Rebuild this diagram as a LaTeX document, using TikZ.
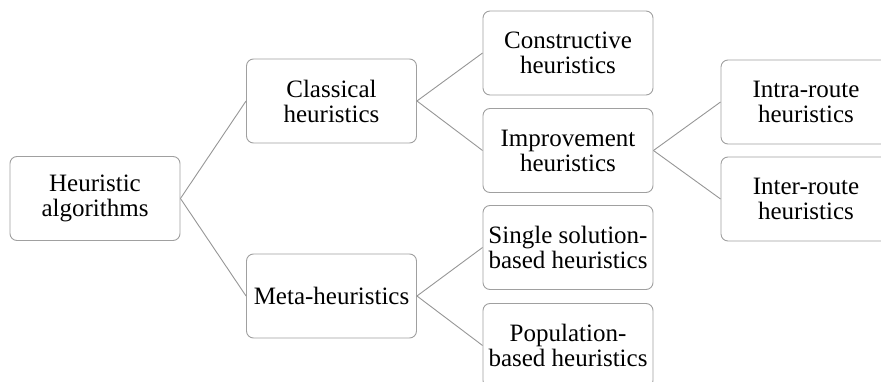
\documentclass[tikz,border=0pt]{standalone}
\usepackage{fontspec}
\setmainfont{Liberation Serif}
\definecolor{boxline}{RGB}{160,160,160}
\definecolor{conline}{RGB}{150,150,150}
\begin{document}
\begin{tikzpicture}[x=1pt,y=-1pt,
  hbox/.style={draw=boxline, line width=0.9pt, rounded corners=7pt, fill=white,
    minimum width=170pt, minimum height=84pt, inner sep=2pt, align=center,
    font=\fontsize{25}{25}\selectfont},
  conn/.style={draw=conline, line width=0.9pt}]
\useasboundingbox (0,0) rectangle (881,382);
\node[hbox] (ha) at (95,198.5) {Heuristic\\algorithms};
\node[hbox] (ch) at (331.5,101) {Classical\\heuristics};
\node[hbox] (mh) at (331.5,296) {Meta-heuristics};
\node[hbox] (con) at (568,53) {Constructive\\heuristics};
\node[hbox] (imp) at (568,150.5) {Improvement\\heuristics};
\node[hbox] (ss) at (568,247.5) {Single solution-\\based heuristics};
\node[hbox] (pop) at (568,345.5) {Population-\\based heuristics};
\node[hbox] (intra) at (806,102) {Intra-route\\heuristics};
\node[hbox] (inter) at (806,199) {Inter-route\\heuristics};
\draw[conn] (ha.east) -- (ch.west);
\draw[conn] (ha.east) -- (mh.west);
\draw[conn] (ch.east) -- (con.west);
\draw[conn] (ch.east) -- (imp.west);
\draw[conn] (mh.east) -- (ss.west);
\draw[conn] (mh.east) -- (pop.west);
\draw[conn] (imp.east) -- (intra.west);
\draw[conn] (imp.east) -- (inter.west);
\end{tikzpicture}
\end{document}
